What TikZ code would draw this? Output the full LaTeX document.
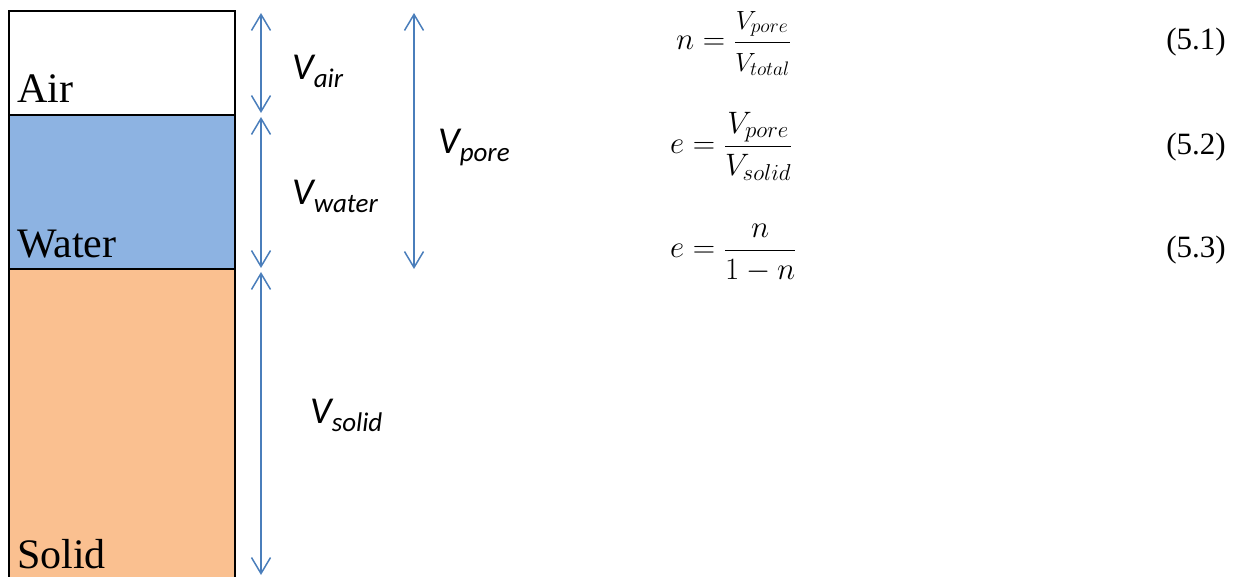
\RequirePackage{fix-cm}
\documentclass[tikz,border=0pt]{standalone}
\usepackage{amsmath}
\usepackage{fontspec}
\usepackage{graphicx}
\setmainfont{Liberation Serif}
\newfontfamily\labfont{Carlito}
\usetikzlibrary{arrows.meta}
\DeclareMathSizes{31}{31}{23}{18}
\definecolor{waterblue}{HTML}{8DB3E2}
\definecolor{solidorange}{HTML}{FAC090}
\definecolor{arrowblue}{HTML}{4A7EBB}
\newcommand{\vlab}[1]{{\labfont\itshape\fontsize{38}{38}\selectfont V\raisebox{-8pt}{\fontsize{27}{27}\selectfont #1}}}
\begin{document}
\begin{tikzpicture}[x=1pt,y=-1pt,
  layer/.style={draw=black, line width=2pt, anchor=north west, minimum width=226pt, inner sep=0pt, outer sep=0pt},
  layertext/.style={anchor=base west, inner sep=0pt, font=\fontsize{42}{42}\selectfont},
  vtext/.style={anchor=base west, inner sep=0pt},
  dim/.style={draw=arrowblue, line width=1.5pt,
    {Straight Barb[length=16pt,width=19pt,line width=1.5pt]}-{Straight Barb[length=16pt,width=19pt,line width=1.5pt]}},
  eqn/.style={anchor=base west, inner sep=0pt, font=\fontsize{31}{31}\selectfont},
  eqnum/.style={anchor=base east, inner sep=0pt, font=\fontsize{31}{31}\selectfont}]
\useasboundingbox (0,0) rectangle (1236,577);
% layers
\node[layer, fill=solidorange, minimum height=330pt] (solid) at (9,269) {};
\node[layer, fill=waterblue, minimum height=154pt] (water) at (9,115) {};
\node[layer, fill=white, minimum height=104pt] (air) at (9,11) {};
% layer names
\node[layertext] (tair) at (17,103) {Air};
\node[layertext] (twater) at (17,258) {Water};
\node[layertext] (tsolid) at (17,568) {Solid};
% dimension arrow end points
\coordinate (airT) at (261,13);
\coordinate (airB) at (261,113);
\coordinate (waterT) at (261,117);
\coordinate (waterB) at (261,268);
\coordinate (solidT) at (261,272);
\coordinate (solidB) at (261,575);
\coordinate (poreT) at (414,13);
\coordinate (poreB) at (414,269);
\draw[dim] (airT) -- (airB);
\draw[dim] (waterT) -- (waterB);
\draw[dim] (solidT) -- (solidB);
\draw[dim] (poreT) -- (poreB);
% dimension labels
\node[vtext] (lair) at (292,80) {\vlab{air}};
\node[vtext] (lwater) at (292,205) {\vlab{water}};
\node[vtext] (lpore) at (438,154) {\vlab{pore}};
\node[vtext] (lsolid) at (310,423) {\vlab{solid}};
% equations
\node[eqn] (eq1) at (676,50) {$n=\dfrac{\scalebox{0.85}{$V_{pore}$}}{\scalebox{0.85}{$V_{total}$}}$};
\node[eqn] (eq2) at (670,154) {$e=\dfrac{V_{pore}}{V_{solid}}$};
\node[eqn] (eq3) at (670,258) {$e=\dfrac{n}{1-n}$};
\node[eqnum] (n1) at (1226,50) {(5.1)};
\node[eqnum] (n2) at (1226,155) {(5.2)};
\node[eqnum] (n3) at (1226,258) {(5.3)};
\end{tikzpicture}
\end{document}
